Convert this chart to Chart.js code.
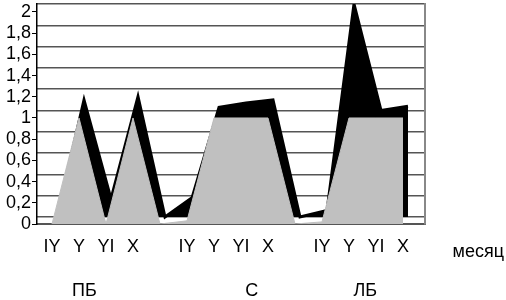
<!DOCTYPE html>
<html>
<head>
<meta charset="utf-8">
<script src="https://cdn.jsdelivr.net/npm/chart.js@4"></script>
<style>
  html, body { margin: 0; padding: 0; background: #fff; }
  canvas { display: block; }
</style>
</head>
<body>
<canvas id="chart" width="506" height="300"></canvas>
<script>
// months inside each group, blank slot between groups
const monthLabels = ['IY', 'Y', 'YI', 'X', '', 'IY', 'Y', 'YI', 'X', '', 'IY', 'Y', 'YI', 'X'];
const groupLabels = ['ПБ', 'С', 'ЛБ'];
const axisTitle = 'месяц';

// front series (grey) and back series (black)
const frontValues = [0, 1, 0, 1, 0, 0.03, 1, 1, 1, 0, 0.02, 1, 1, 1];
const backValues = [0, 1.1, 0.17, 1.13, 0, 0.18, 1.03, 1.07, 1.1, 0, 0.06, 2, 1, 1.04];

const yTickValues = [0, 0.2, 0.4, 0.6, 0.8, 1, 1.2, 1.4, 1.6, 1.8, 2];
const yTickLabels = ['0', '0,2', '0,4', '0,6', '0,8', '1', '1,2', '1,4', '1,6', '1,8', '2'];

const font = '"Liberation Sans", Arial, sans-serif';

const monthTitle = {
  id: 'monthTitle',
  afterDraw(chart) {
    const ctx = chart.ctx;
    ctx.save();
    ctx.font = '18px ' + font;
    ctx.fillStyle = '#000';
    ctx.textAlign = 'right';
    ctx.textBaseline = 'alphabetic';
    ctx.fillText(axisTitle, chart.width - 2, chart.scales.x.top + 33);
    ctx.restore();
  }
};

const noPadding = (scale) => {
  scale.paddingTop = 0;
  scale.paddingBottom = 0;
  scale.paddingLeft = 0;
  scale.paddingRight = 0;
};

const frontData = frontValues.map((v, i) => ({ x: i, y: v }));
const backData = backValues.map((v, i) => ({ x: i, y: v }));

const config = {
  type: 'line',
  data: {
    datasets: [{
      label: 'front',
      data: frontData,
      xAxisID: 'x',
      yAxisID: 'y',
      backgroundColor: '#c0c0c0',
      borderColor: '#c0c0c0',
      borderWidth: 1,
      fill: 'origin',
      pointRadius: 0,
      tension: 0
    }, {
      label: 'back',
      data: backData,
      xAxisID: 'xb',
      yAxisID: 'yb',
      backgroundColor: '#000',
      borderColor: '#000',
      borderWidth: 3,
      fill: 'origin',
      pointRadius: 0,
      tension: 0
    }]
  },
  options: {
    responsive: false,
    animation: false,
    layout: {
      padding: { top: 4, right: 81, left: 0, bottom: 0 }
    },
    plugins: {
      legend: { display: false },
      tooltip: { enabled: false }
    },
    scales: {
      x: {
        type: 'linear',
        position: 'bottom',
        min: -0.556,
        max: 13.815,
        afterBuildTicks: (scale) => {
          scale.ticks = monthLabels.map((l, i) => ({ value: i }));
        },
        afterFit: (scale) => { scale.height = 40; noPadding(scale); },
        ticks: {
          callback: (v) => monthLabels[v],
          font: { size: 18, family: font },
          color: '#000',
          padding: 12,
          maxRotation: 0,
          autoSkip: false
        },
        grid: { display: false, drawTicks: false },
        border: { display: true, color: '#555', width: 2 }
      },
      xg: {
        type: 'linear',
        position: 'bottom',
        min: -0.556,
        max: 13.815,
        afterBuildTicks: (scale) => {
          scale.ticks = [1.2, 7.4, 11.6].map((v) => ({ value: v }));
        },
        afterFit: (scale) => { scale.height = 36; noPadding(scale); },
        ticks: {
          callback: (v, i) => groupLabels[i],
          font: { size: 18, family: font },
          color: '#000',
          padding: 16,
          maxRotation: 0,
          autoSkip: false
        },
        grid: { display: false, drawTicks: false },
        border: { display: false }
      },
      xb: {
        type: 'linear',
        display: false,
        min: -0.741,
        max: 13.63
      },
      y: {
        position: 'left',
        min: 0,
        max: 2.075,
        afterBuildTicks: (scale) => {
          scale.ticks = yTickValues.map((v) => ({ value: v }));
        },
        afterFit: (scale) => { scale.width = 37; noPadding(scale); },
        ticks: {
          callback: (v, i) => yTickLabels[i],
          font: { size: 18, family: font },
          color: '#000',
          padding: 1,
          autoSkip: false
        },
        grid: { drawOnChartArea: false, tickLength: 5, color: '#000' },
        border: { display: true, color: '#000', width: 1.5 }
      },
      yb: {
        position: 'right',
        min: -0.066,
        max: 2,
        afterBuildTicks: (scale) => {
          scale.ticks = yTickValues.map((v) => ({ value: v }));
        },
        afterFit: (scale) => { scale.width = 0; noPadding(scale); },
        ticks: { display: false },
        grid: { color: '#555', lineWidth: 1.5, drawTicks: false },
        border: { display: true, color: '#888', width: 2 }
      }
    }
  },
  plugins: [monthTitle]
};

const chart = new Chart(document.getElementById('chart'), config);
</script>
</body>
</html>
